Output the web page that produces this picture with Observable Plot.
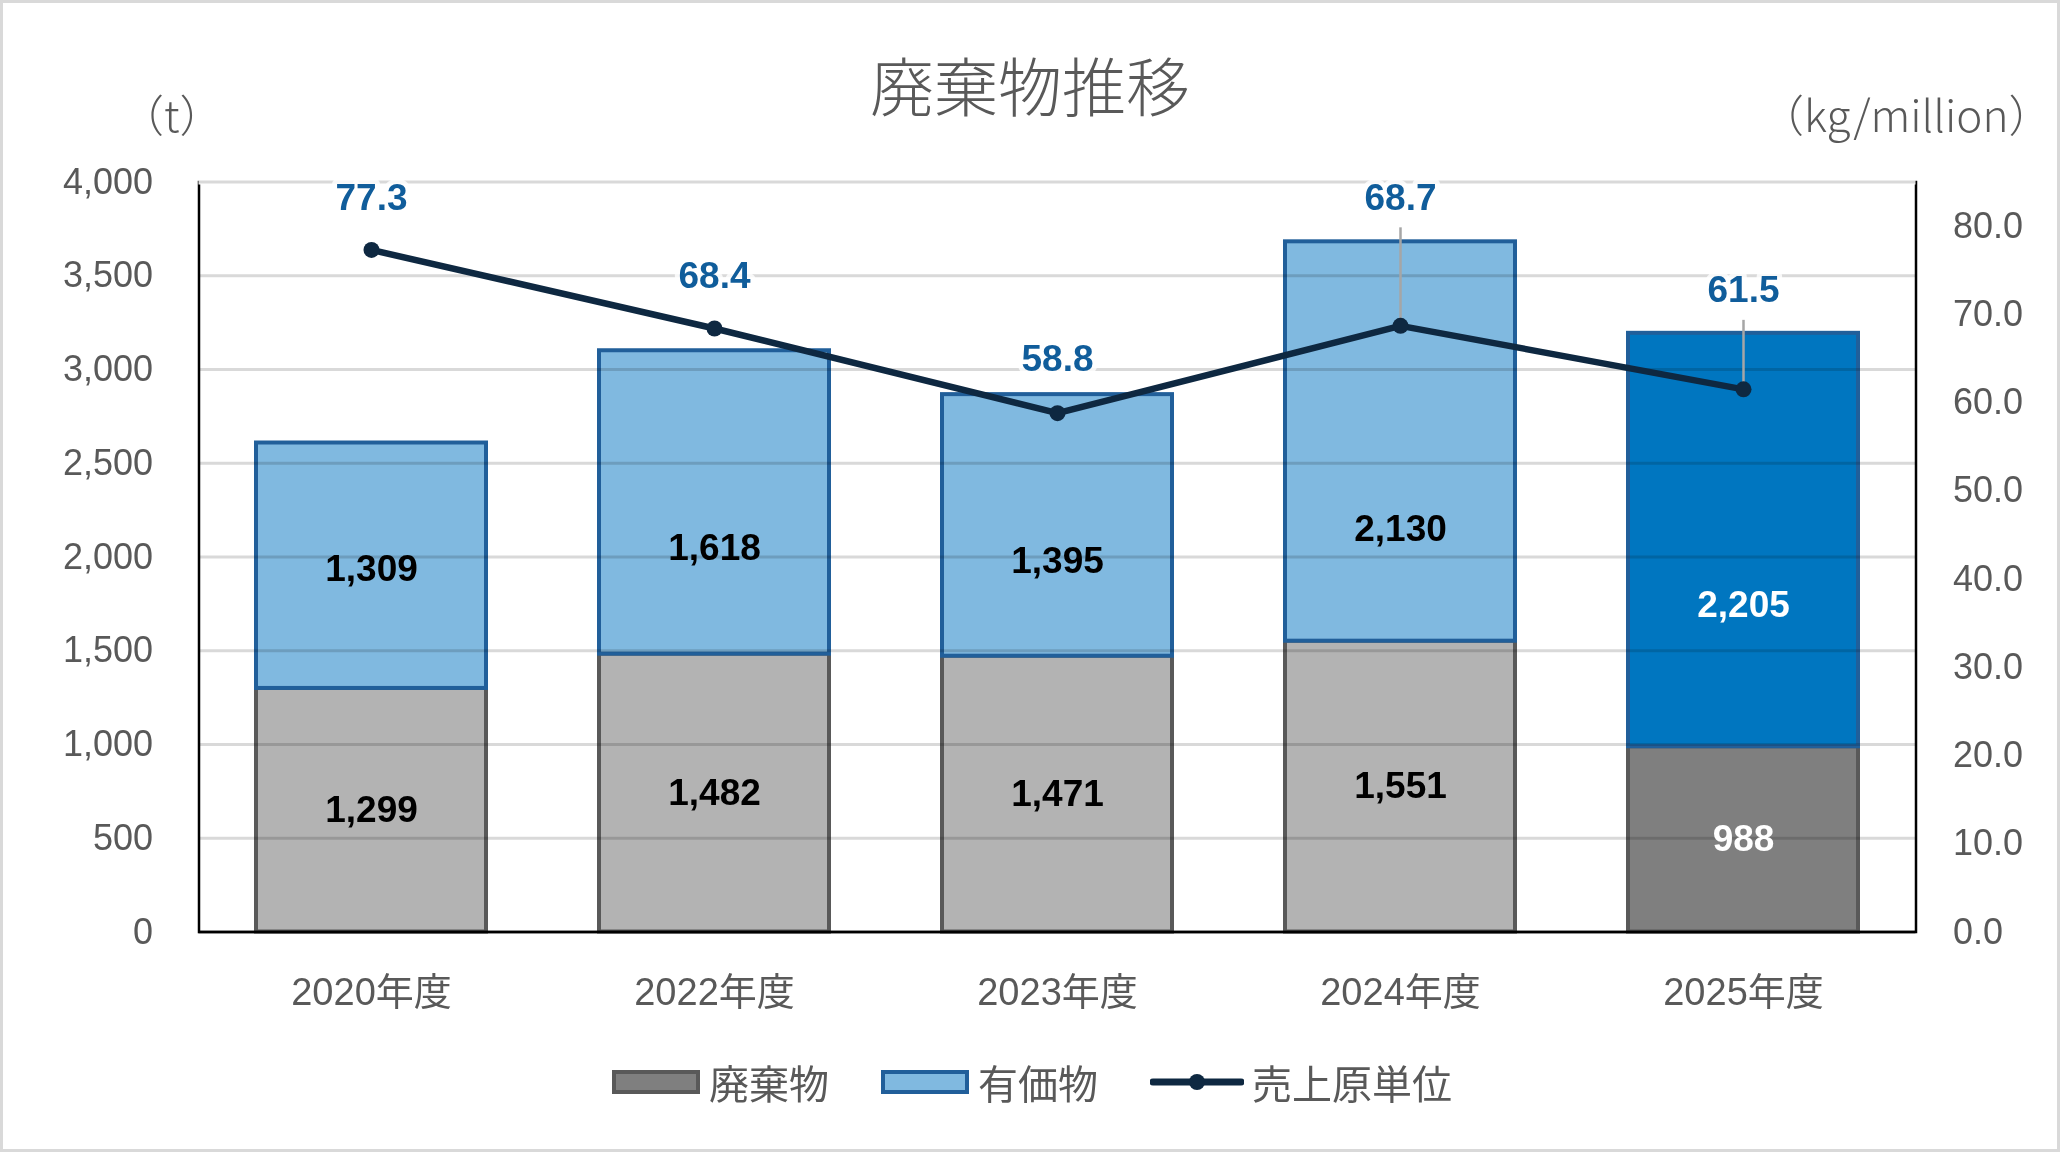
<!DOCTYPE html>
<html>
<head>
<meta charset="utf-8">
<script src="https://cdn.jsdelivr.net/npm/d3@7"></script>
<script src="https://cdn.jsdelivr.net/npm/@observablehq/plot@0.6"></script>
<style>
  html, body { margin: 0; padding: 0; background: #fff; }
  #wrap { position: relative; width: 2060px; height: 1152px; overflow: hidden; background: #fff;
          font-family: 'Liberation Sans', 'Noto Sans CJK JP', sans-serif; color: #595959; }
  #border { position: absolute; left: 0; top: 0; right: 0; bottom: 0; border: 3px solid #d9d9d9; box-sizing: border-box; pointer-events: none; }
  #title { position: absolute; left: 0; width: 2060px; top: 46px; text-align: center; font-size: 64px; line-height: 74px;
           font-family: 'Noto Sans CJK JP', sans-serif; font-weight: 300; color: #595959; }
  .unit { position: absolute; top: 88px; font-size: 44px; line-height: 50px; font-family: 'Noto Sans CJK JP', sans-serif; font-weight: 300; color: #595959; white-space: nowrap; }
  #chart { position: absolute; left: 0; top: 0; }
  #legend { position: absolute; left: 612px; top: 1057px; height: 50px; display: flex; align-items: center;
            font-family: 'Noto Sans CJK JP', sans-serif; font-size: 40px; color: #595959; }
  .sw { box-sizing: border-box; width: 88px; height: 24px; border: 4px solid; margin-right: 9px; }
  .lab { margin-right: 52px; }
</style>
</head>
<body>
<div id="wrap">
  <div id="chart"></div>
  <div id="title"></div>
  <div class="unit" id="unitL" style="left:120px;"></div>
  <div class="unit" id="unitR" style="left:1760px;"></div>
  <div id="legend"></div>
  <div id="border"></div>
</div>
<script>
// ---- data ----
const years = ["2020年度", "2022年度", "2023年度", "2024年度", "2025年度"];
const waste = [1299, 1482, 1471, 1551, 988];          // 廃棄物 (t)
const valuables = [1309, 1618, 1395, 2130, 2205];     // 有価物 (t)
const intensity = [77.3, 68.4, 58.8, 68.7, 61.5];     // 売上原単位 (kg/million)
const leftTicks = [0, 500, 1000, 1500, 2000, 2500, 3000, 3500, 4000];
const rightTicks = [0, 10, 20, 30, 40, 50, 60, 70, 80];
const seriesNames = ["廃棄物", "有価物", "売上原単位"];
const titleText = "廃棄物推移";
const unitLeft = "（t）";
const unitRight = "（kg/million）";

// ---- label placement (styling, not data) ----
const valLabelDy = [3, 46, 36, 88, 65];
const lineLabelDy = [-52, -52, -54, -128, -99];
const hasLeader = [false, false, false, true, true];

// ---- layout ----
const W = 2060, H = 1040;
const mTop = 181.5, mBottom = H - 931.5, mLeft = 198.5, mRight = 2060 - 1915.5;
const innerH = H - mTop - mBottom;
const leftMax = 4000, rightMax = 85;
const toLeft = v => v * leftMax / rightMax;
const unitsPerPx = leftMax / innerH;

const highlight = i => i === years.length - 1;
const wasteFill = i => highlight(i) ? "#7f7f7f" : "#b3b3b3";
const valFill = i => highlight(i) ? "#0076c0" : "#80b9e0";
const wasteStroke = "#595959", valStroke = "#215f9a";
const lineColor = "#0e2841", lineLabelColor = "#105d9b";

const barRows = [
  ...years.map((year, i) => ({year, type: seriesNames[0], value: waste[i], i})),
  ...years.map((year, i) => ({year, type: seriesNames[1], value: valuables[i], i}))
];
const lineRows = years.map((year, i) => ({year, v: intensity[i], i}));
const fmt = d3.format(",");

const marks = [
  Plot.barY(barRows, {
    x: "year", y: "value", z: "type",
    fill: d => d.type === seriesNames[0] ? wasteFill(d.i) : valFill(d.i),
    stroke: d => d.type === seriesNames[0] ? wasteStroke : valStroke,
    strokeWidth: 4
  }),
  Plot.frame({stroke: "#000", strokeWidth: 2.5}),
  Plot.ruleY([leftMax], {stroke: "#fff", strokeWidth: 5}),
  Plot.ruleY(leftTicks.filter(t => t > 0), {stroke: "#d9d9d9", strokeWidth: 3, mixBlendMode: "multiply"}),
  Plot.ruleY([0], {stroke: "#000", strokeWidth: 2.5}),
  Plot.axisY(leftTicks, {anchor: "left", tickSize: 0, tickPadding: 46, tickFormat: fmt, fontSize: 36, label: null, fill: "#595959"}),
  Plot.axisY(rightTicks.map(toLeft), {anchor: "right", tickSize: 0, tickPadding: 37, tickFormat: d => (d * rightMax / leftMax).toFixed(1), fontSize: 36, label: null, fill: "#595959"}),
  Plot.axisX({tickSize: 0, tickPadding: 46, fontSize: 38, label: null, fill: "#595959"}),
  // waste labels (segment centre)
  Plot.text(barRows.filter(d => d.type === seriesNames[0]), {
    x: "year", y: d => d.value / 2, text: d => fmt(d.value),
    fill: d => highlight(d.i) ? "#fff" : "#000", fontWeight: "bold", fontSize: 37
  }),
  // valuables labels
  ...barRows.filter(d => d.type === seriesNames[1]).map(d => Plot.text([d], {
    x: "year", y: r => waste[r.i] + r.value / 2, text: r => fmt(r.value),
    fill: highlight(d.i) ? "#fff" : "#000", fontWeight: "bold", fontSize: 37, dy: valLabelDy[d.i]
  })),
  // leaders
  ...lineRows.filter(d => hasLeader[d.i]).map(d => Plot.ruleX([d], {
    x: "year", y1: r => toLeft(r.v), y2: r => toLeft(r.v) + (-lineLabelDy[r.i] - 30) * unitsPerPx,
    stroke: "#a6a6a6", strokeWidth: 2.5
  })),
  Plot.line(lineRows, {x: "year", y: d => toLeft(d.v), stroke: lineColor, strokeWidth: 6.5}),
  Plot.dot(lineRows, {x: "year", y: d => toLeft(d.v), r: 8, fill: lineColor}),
  ...lineRows.map(d => Plot.text([d], {
    x: "year", y: r => toLeft(r.v), text: r => r.v.toFixed(1), dy: lineLabelDy[d.i],
    fill: lineLabelColor, fontWeight: "bold", fontSize: 37, stroke: "#fff", strokeWidth: 10, strokeOpacity: 0.8
  }))
];

const chart = Plot.plot({
  width: W, height: H,
  marginTop: mTop, marginBottom: mBottom, marginLeft: mLeft, marginRight: mRight,
  style: {fontFamily: "'Liberation Sans', 'Noto Sans CJK JP', sans-serif", color: "#595959", background: "transparent", overflow: "visible"},
  x: {type: "band", domain: years, paddingInner: 0.33, paddingOuter: 0.165, align: 0.5},
  y: {domain: [0, leftMax]},
  color: {type: "identity"},
  marks
});
document.getElementById("chart").appendChild(chart);

document.getElementById("title").textContent = titleText;
document.getElementById("unitL").textContent = unitLeft;
document.getElementById("unitR").textContent = unitRight;

// legend
const legend = document.getElementById("legend");
function addSwatch(fill, stroke) {
  const s = document.createElement("div");
  s.className = "sw"; s.style.background = fill; s.style.borderColor = stroke;
  legend.appendChild(s);
}
function addLabel(t, last) {
  const l = document.createElement("span");
  l.className = "lab"; l.textContent = t; if (last) l.style.marginRight = "0";
  legend.appendChild(l);
}
addSwatch("#7f7f7f", wasteStroke); addLabel(seriesNames[0]);
addSwatch("#80b9e0", valStroke); addLabel(seriesNames[1]);
const ls = document.createElementNS("http://www.w3.org/2000/svg", "svg");
ls.setAttribute("width", 94); ls.setAttribute("height", 24); ls.style.marginRight = "8px";
ls.innerHTML = `<line x1="3" y1="12" x2="91" y2="12" stroke="${lineColor}" stroke-width="7" stroke-linecap="round"/><circle cx="47" cy="12" r="8" fill="${lineColor}"/>`;
legend.appendChild(ls);
addLabel(seriesNames[2], true);
</script>
</body>
</html>
